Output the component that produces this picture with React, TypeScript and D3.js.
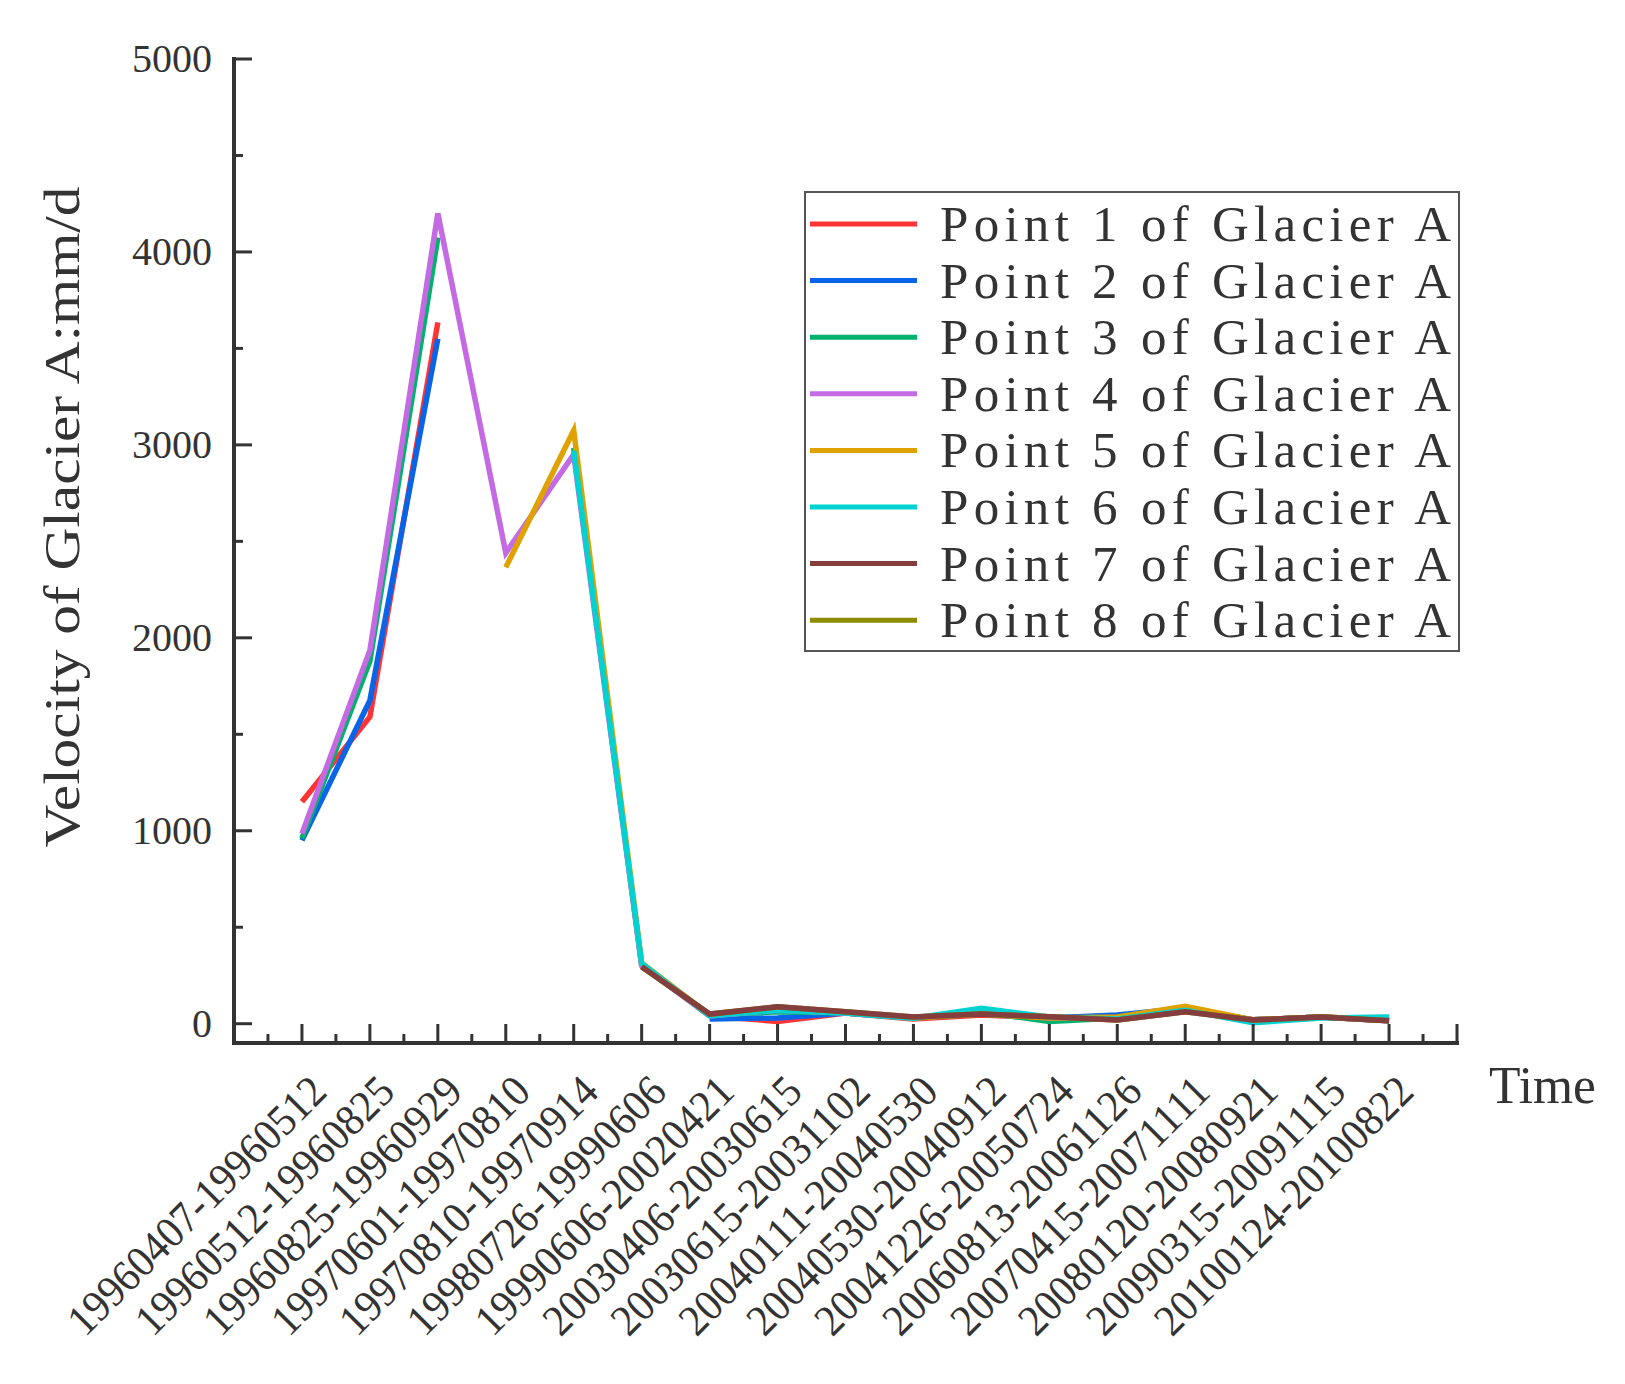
import * as d3 from 'd3'

const periods = [
  '19960407-19960512',
  '19960512-19960825',
  '19960825-19960929',
  '19970601-19970810',
  '19970810-19970914',
  '19980726-19990606',
  '19990606-20020421',
  '20030406-20030615',
  '20030615-20031102',
  '20040111-20040530',
  '20040530-20040912',
  '20041226-20050724',
  '20060813-20061126',
  '20070415-20071111',
  '20080120-20080921',
  '20090315-20091115',
  '20100124-20100822',
]

// velocities in mm/d, null = no measurement for that period
const point1 = [1150, 1590, 3635, null, null, null, 40, 12, 55, 25, 45, 30, 40, 70, 20, 35, 15]
const point2 = [950, 1675, 3550, null, null, null, 25, 30, 55, 30, 50, 30, 45, 80, 20, 35, 15]
const point3 = [960, 1880, 4075, null, 2985, 305, 45, 62, 55, 30, 60, 12, 30, 75, 20, 35, 20]
const point4 = [985, 1935, 4200, 2440, 2950, 300, 40, 70, 55, 30, 55, 30, 30, 70, 20, 35, 20]
const point5 = [null, null, null, 2365, 3075, 315, 45, 75, 60, 30, 50, 30, 35, 90, 20, 35, 20]
const point6 = [null, null, null, null, 2970, 312, 40, 70, 55, 28, 80, 35, 25, 70, 5, 30, 35]
const point7 = [null, null, null, null, null, 295, 50, 88, 62, 35, 50, 36, 19, 62, 19, 35, 15]
const point8 = [null, null, null, null, null, 295, 50, 88, 62, 35, 50, 36, 19, 62, 19, 35, 15]

const seriesNames = [
  'Point 1 of Glacier A',
  'Point 2 of Glacier A',
  'Point 3 of Glacier A',
  'Point 4 of Glacier A',
  'Point 5 of Glacier A',
  'Point 6 of Glacier A',
  'Point 7 of Glacier A',
  'Point 8 of Glacier A',
]
const seriesValues = [point1, point2, point3, point4, point5, point6, point7, point8]
const COLORS = ['#FF3535', '#0A64E8', '#00B26B', '#C46AE2', '#DFA200', '#00D2D2', '#843E3E', '#8C8C00']

const yTicks = [0, 1000, 2000, 3000, 4000, 5000]

// brown (7) ends up on top in the original, so it is drawn last
const DRAW_ORDER = [0, 1, 2, 3, 4, 5, 7, 6]

const FONT = '"Liberation Serif", "Times New Roman", serif'
const AXIS = '#333333'

export default function App() {
  const left = 234, right = 1457, top = 59, bottom = 1043

  const x = d3.scaleLinear().domain([0, periods.length + 1]).range([left, right])
  const y = d3.scaleLinear().domain([-100, 5000]).range([bottom, top])

  const line = d3
    .line<number | null>()
    .defined(d => d != null)
    .x((_, i) => x(i + 1))
    .y(d => y(d as number))

  const xMajor = d3.range(0, periods.length + 2)
  const xMinor = d3.range(0.5, periods.length + 1, 1)
  const yMinor = d3.range(500, 5000, 1000)

  const legendX = 805, legendY = 192, rowH = 56.6

  return (
    <svg
      width={1625}
      height={1384}
      style={{ position: 'absolute', left: 0, top: 0, background: '#fff' }}
      fontFamily={FONT}
    >
      {/* series */}
      {DRAW_ORDER.map(k => (
        <path
          key={k}
          d={line(seriesValues[k]) ?? ''}
          fill="none"
          stroke={COLORS[k]}
          strokeWidth={5.5}
          strokeLinejoin="miter"
        />
      ))}

      {/* y axis */}
      <line x1={left} x2={left} y1={top - 2} y2={bottom + 2} stroke={AXIS} strokeWidth={4} />
      {yTicks.map(t => (
        <g key={t}>
          <line x1={left} x2={left + 18} y1={y(t)} y2={y(t)} stroke={AXIS} strokeWidth={3} />
          <text x={212} y={y(t) + 13} textAnchor="end" fontSize={40} fill="#333">
            {t}
          </text>
        </g>
      ))}
      {yMinor.map(t => (
        <line key={t} x1={left} x2={left + 9} y1={y(t)} y2={y(t)} stroke={AXIS} strokeWidth={3} />
      ))}
      <text
        transform="translate(79,517) rotate(-90)"
        textAnchor="middle"
        fontSize={50}
        textLength={661}
        lengthAdjust="spacingAndGlyphs"
        fill="#333"
      >
        Velocity of Glacier A:mm/d
      </text>

      {/* x axis */}
      <line x1={left - 2} x2={right + 2} y1={bottom} y2={bottom} stroke={AXIS} strokeWidth={4} />
      {xMajor.map(t => (
        <line key={t} x1={x(t)} x2={x(t)} y1={bottom} y2={bottom - 19} stroke={AXIS} strokeWidth={3} />
      ))}
      {xMinor.map(t => (
        <line key={t} x1={x(t)} x2={x(t)} y1={bottom} y2={bottom - 9} stroke={AXIS} strokeWidth={3} />
      ))}
      {periods.map((p, i) => (
        <text
          key={p}
          transform={`translate(${x(i + 1) + 16},${bottom + 40}) rotate(-45)`}
          textAnchor="end"
          dy="0.35em"
          fontSize={44}
          textLength={345}
          lengthAdjust="spacingAndGlyphs"
          fill="#333"
        >
          {p}
        </text>
      ))}
      <text x={1489} y={1103} fontSize={52} textLength={107} lengthAdjust="spacingAndGlyphs" fill="#333">
        Time
      </text>

      {/* legend */}
      <rect x={legendX} y={legendY} width={654} height={459} fill="#fff" stroke="#555" strokeWidth={2} />
      {seriesNames.map((name, i) => {
        const cy = legendY + 32 + rowH * i
        return (
          <g key={name}>
            <line x1={810} x2={917} y1={cy} y2={cy} stroke={COLORS[i]} strokeWidth={5} />
            <text x={940} y={cy + 17} fontSize={51} textLength={511} lengthAdjust="spacing" fill="#333">
              {name}
            </text>
          </g>
        )
      })}
    </svg>
  )
}
